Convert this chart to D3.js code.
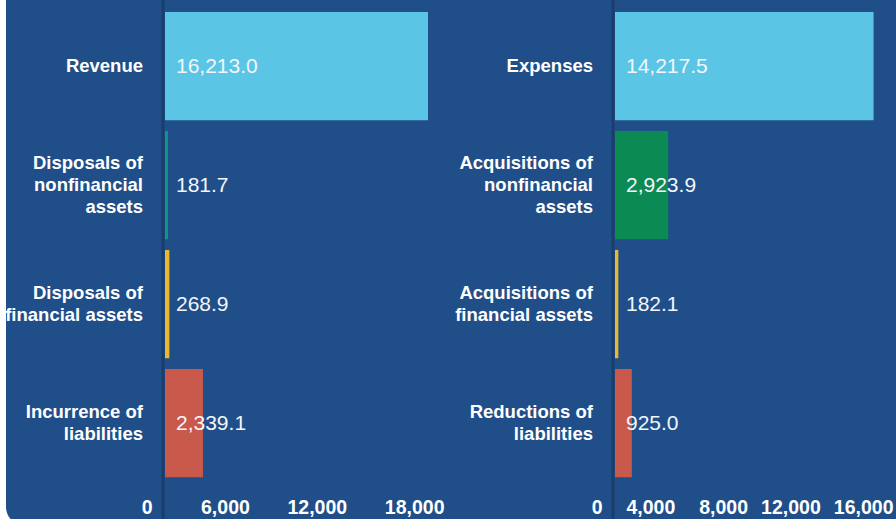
<!DOCTYPE html>
<html lang="en">
<head>
<meta charset="UTF-8">
<script src="https://d3js.org/d3.v7.min.js"></script>
<style>
  body { margin: 0; background: #fff; }
  svg { display: block; font-family: "Liberation Sans", Arial, sans-serif; }
</style>
</head>
<body>
<div class="chart"></div>
<script>
// data
const leftCategories = ["Revenue", "Disposals of\nnonfinancial\nassets", "Disposals of\nfinancial assets", "Incurrence of\nliabilities"];
const leftValues = [16213.0, 181.7, 268.9, 2339.1];
const leftTicks = [0, 6000, 12000, 18000];

const rightCategories = ["Expenses", "Acquisitions of\nnonfinancial\nassets", "Acquisitions of\nfinancial assets", "Reductions of\nliabilities"];
const rightValues = [14217.5, 2923.9, 182.1, 925.0];
const rightTicks = [0, 4000, 8000, 12000, 16000];

const leftColors = ["#5bc5e6", "#10958a", "#e8b833", "#c9594b"];
const rightColors = ["#5bc5e6", "#0b8a54", "#e8b833", "#c9594b"];

const width = 896, height = 519;
const fmt = d3.format(",.1f");
const tickFmt = d3.format(",");

const svg = d3.select(".chart").append("svg")
  .attr("width", width)
  .attr("height", height);

// panel background (cropped, rounded bottom-left corner)
svg.append("clipPath").attr("id", "panel")
  .append("rect")
  .attr("x", 6).attr("y", -30)
  .attr("width", 940).attr("height", 555)
  .attr("rx", 18);

svg.append("rect")
  .attr("x", 6).attr("y", -30)
  .attr("width", 940).attr("height", 555)
  .attr("rx", 18)
  .attr("fill", "#1f4e89");

const root = svg.append("g").attr("clip-path", "url(#panel)");

function drawPanel(cats, vals, colors, ticks, x0, x1) {
  const x = d3.scaleLinear()
    .domain([0, ticks[ticks.length - 1]])
    .range([x0, x1]);

  const y = d3.scaleBand()
    .domain(cats)
    .range([6.6, 482.6])
    .paddingInner(0.09)
    .paddingOuter(0.045);

  const g = root.append("g");

  // axis line
  g.append("line")
    .attr("x1", x0 - 2).attr("x2", x0 - 2)
    .attr("y1", 0).attr("y2", height)
    .attr("stroke", "#1a3d6c")
    .attr("stroke-width", 3);

  g.selectAll("rect.bar")
    .data(vals)
    .join("rect")
    .attr("class", "bar")
    .attr("x", x(0))
    .attr("y", (d, i) => y(cats[i]))
    .attr("width", d => x(d) - x(0))
    .attr("height", y.bandwidth())
    .attr("fill", (d, i) => colors[i]);

  // value labels
  g.selectAll("text.val")
    .data(vals)
    .join("text")
    .attr("class", "val")
    .attr("x", x0 + 11)
    .attr("y", (d, i) => y(cats[i]) + y.bandwidth() / 2 + 6.5)
    .attr("fill", "#f4f6fa")
    .style("font-size", "21px")
    .text(d => fmt(d));

  // category labels
  const lab = g.selectAll("text.cat")
    .data(cats)
    .join("text")
    .attr("class", "cat")
    .attr("text-anchor", "end")
    .attr("fill", "#fff")
    .style("font-size", "18.5px")
    .style("font-weight", "bold");

  lab.each(function(d) {
    const lines = d.split("\n");
    const cy = y(d) + y.bandwidth() / 2;
    const lh = 22;
    d3.select(this).selectAll("tspan")
      .data(lines)
      .join("tspan")
      .attr("x", x0 - 22)
      .attr("y", (t, j) => cy + 6.3 + (j - (lines.length - 1) / 2) * lh)
      .text(t => t);
  });

  // x axis tick labels
  const axis = d3.axisBottom(x)
    .tickValues(ticks)
    .tickSize(0)
    .tickFormat(tickFmt);

  const ax = g.append("g")
    .attr("transform", "translate(0,497)")
    .call(axis);
  ax.select(".domain").remove();
  ax.selectAll("text")
    .attr("text-anchor", "end")
    .attr("dx", -13)
    .attr("dy", 0)
    .attr("y", 17)
    .attr("fill", "#fff")
    .style("font-size", "19.5px")
    .style("font-weight", "bold")
    .style("font-family", "Liberation Sans, Arial, sans-serif");
}

drawPanel(leftCategories, leftValues, leftColors, leftTicks, 165, 457);
drawPanel(rightCategories, rightValues, rightColors, rightTicks, 615, 906);
</script>
</body>
</html>
